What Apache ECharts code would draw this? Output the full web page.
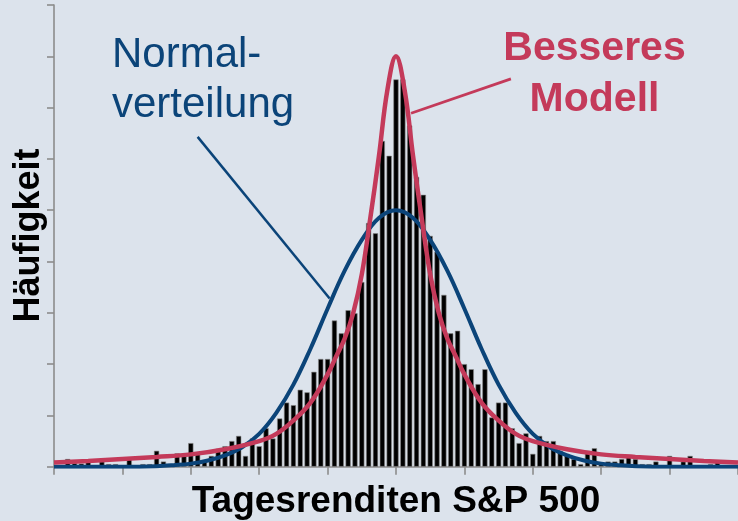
<!DOCTYPE html>
<html>
<head>
<meta charset="utf-8">
<script src="https://cdn.jsdelivr.net/npm/echarts@6/dist/echarts.min.js"></script>
<style>
html,body{margin:0;padding:0;background:#dce3ec;}
#c{width:738px;height:521px;}
</style>
</head>
<body>
<div id="c"></div>
<script>
// Histogram bin centers (daily return, arbitrary units) and bar heights
const binCenters = [-4.9,-4.8,-4.7,-4.6,-4.5,-4.4,-4.3,-4.2,-4.1,-4.0,-3.9,-3.8,-3.7,-3.6,-3.5,-3.4,-3.3,-3.2,-3.1,-3.0,
  -2.9,-2.8,-2.7,-2.6,-2.5,-2.4,-2.3,-2.2,-2.1,-2.0,-1.9,-1.8,-1.7,-1.6,-1.5,-1.4,-1.3,-1.2,-1.1,-1.0,
  -0.9,-0.8,-0.7,-0.6,-0.5,-0.4,-0.3,-0.2,-0.1,0.0,0.1,0.2,0.3,0.4,0.5,0.6,0.7,0.8,0.9,1.0,
  1.1,1.2,1.3,1.4,1.5,1.6,1.7,1.8,1.9,2.0,2.1,2.2,2.3,2.4,2.5,2.6,2.7,2.8,2.9,3.0,
  3.1,3.2,3.3,3.4,3.5,3.6,3.7,3.8,3.9,4.0,4.1,4.2,4.3,4.4,4.5,4.6,4.7,4.8,4.9];
const binCounts = [0,0.15,0.07,0.06,0.11,0,0.10,0.05,0.05,0,0.15,0,0.05,0.05,0.31,0.10,0.05,0.26,0.21,0.46,
  0.26,0.10,0.21,0.35,0.40,0.50,0.60,0.21,0.55,0.40,0.75,0.55,0.94,1.25,1.20,1.50,1.45,1.85,2.10,2.10,
  2.85,2.60,3.05,2.99,3.60,4.75,4.55,6.35,6.06,7.55,7.55,6.65,5.65,5.30,4.50,4.19,3.35,2.60,2.65,2.00,
  1.90,1.61,1.90,0.96,1.25,1.25,0.75,0.46,0.65,0.25,0.60,0.50,0.50,0.31,0.25,0.15,0.05,0.31,0.36,0.05,
  0.10,0.10,0.15,0.20,0.15,0.05,0.05,0.10,0,0.21,0,0.10,0.21,0,0,0.05,0.12,0,0];

// Normal distribution curve
const normalX = [-5,-4.5,-4,-3.5,-3.25,-3,-2.75,-2.5,-2.25,-2,-1.75,-1.5,-1.25,-1,-0.75,-0.5,-0.25,0,
  0.25,0.5,0.75,1,1.25,1.5,1.75,2,2.25,2.5,2.75,3,3.25,3.5,4,4.5,5];
const normalY = [0,0,0,0.01,0.03,0.06,0.12,0.22,0.38,0.64,1.05,1.6,2.3,3.08,3.82,4.42,4.85,5.0,
  4.85,4.42,3.82,3.08,2.3,1.6,1.05,0.64,0.38,0.22,0.12,0.06,0.03,0.01,0,0,0];

// Better (fat-tailed) model curve
const modelX = [-5,-4.5,-4,-3.5,-3,-2.5,-2,-1.75,-1.5,-1.25,-1,-0.875,-0.75,-0.625,-0.5,-0.375,-0.25,-0.125,0,
  0.125,0.25,0.375,0.5,0.625,0.75,0.875,1,1.25,1.5,1.75,2,2.5,3,3.5,4,4.5,5];
const modelY = [0.08,0.11,0.15,0.19,0.24,0.34,0.5,0.64,0.9,1.25,1.8,2.15,2.5,3.0,3.75,4.85,6.05,7.35,8.0,
  7.35,6.05,4.85,3.75,3.0,2.5,2.15,1.8,1.25,0.9,0.64,0.5,0.34,0.24,0.19,0.15,0.11,0.08];

// Axis ticks
const xTicks = {min:-5, max:5, step:1};
const yTicks = {min:0, max:9, step:1};

const FONT = "'Liberation Sans', Arial, sans-serif";
const BLUE = '#0b4479';
const RED = '#c43a5a';
const AXIS = '#8c8c8c';

const chart = echarts.init(document.getElementById('c'), null, {renderer:'canvas'});

const barData = binCenters.map((x,i) => binCounts[i] > 0 ? [x, binCounts[i]] : [x, '-']);
const normData = normalX.map((x,i) => [x, normalY[i]]);
const modelData = modelX.map((x,i) => [x, modelY[i]]);

chart.setOption({
  backgroundColor: '#dce3ec',
  animation: false,
  grid: {left: 54, right: 0, top: 5, bottom: 54.3},
  xAxis: {
    type: 'value', min: xTicks.min, max: xTicks.max, interval: xTicks.step,
    axisLine: {show: true, onZero: false, lineStyle: {color: AXIS, width: 1.6}},
    axisTick: {show: true, inside: false, length: 8, lineStyle: {color: AXIS, width: 1.6}},
    axisLabel: {show: false}, splitLine: {show: false}
  },
  yAxis: {
    type: 'value', min: yTicks.min, max: yTicks.max, interval: yTicks.step,
    axisLine: {show: true, onZero: false, lineStyle: {color: AXIS, width: 1.6}},
    axisTick: {show: true, inside: false, length: 7, lineStyle: {color: AXIS, width: 1.6}},
    axisLabel: {show: false}, splitLine: {show: false}
  },
  series: [
    {
      type: 'bar', data: barData, barWidth: 5.2, z: 2,
      itemStyle: {color: '#000', borderColor: '#8a8a8a', borderWidth: 0.6}
    },
    {
      type: 'line', data: normData, smooth: 0.4, symbol: 'none', z: 3,
      lineStyle: {color: BLUE, width: 4}
    },
    {
      type: 'line', data: modelData, smooth: 0.4, symbol: 'none', z: 4,
      lineStyle: {color: RED, width: 4.5}
    }
  ]
});

// Annotation pointer anchors in data coordinates
const normalPointer = [[-2.9, 6.43], [-0.97, 3.28]];
const modelPointer = [[0.22, 6.89], [1.68, 7.56]];
const p = pts => pts.map(q => chart.convertToPixel({gridIndex: 0}, q));
const np = p(normalPointer), mp = p(modelPointer);

chart.setOption({
  graphic: [
    {type:'line', shape:{x1:np[0][0], y1:np[0][1], x2:np[1][0], y2:np[1][1]}, style:{stroke: BLUE, lineWidth: 2.5}, z: 10},
    {type:'line', shape:{x1:mp[0][0], y1:mp[0][1], x2:mp[1][0], y2:mp[1][1]}, style:{stroke: RED, lineWidth: 2.7}, z: 10},
    {type:'text', x: 112, y: 55.4, style:{text:'Normal-', fill: BLUE, font: '42px ' + FONT, textAlign:'left', textVerticalAlign:'middle'}, z: 10},
    {type:'text', x: 112, y: 105.4, style:{text:'verteilung', fill: BLUE, font: '42px ' + FONT, textAlign:'left', textVerticalAlign:'middle'}, z: 10},
    {type:'text', x: 594.5, y: 49.1, style:{text:'Besseres', fill: RED, font: 'bold 41px ' + FONT, textAlign:'center', textVerticalAlign:'middle'}, z: 10},
    {type:'text', x: 594.5, y: 100.1, style:{text:'Modell', fill: RED, font: 'bold 41px ' + FONT, textAlign:'center', textVerticalAlign:'middle'}, z: 10},
    {type:'text', x: 396, y: 501.5, style:{text:'Tagesrenditen S&P 500', fill: '#000', font: 'bold 37px ' + FONT, textAlign:'center', textVerticalAlign:'middle'}, z: 10},
    {type:'text', x: 29, y: 235.5, rotation: Math.PI/2, style:{text:'Häufigkeit', fill: '#000', font: 'bold 36px ' + FONT, textAlign:'center', textVerticalAlign:'middle'}, z: 10}
  ]
});
</script>
</body>
</html>
